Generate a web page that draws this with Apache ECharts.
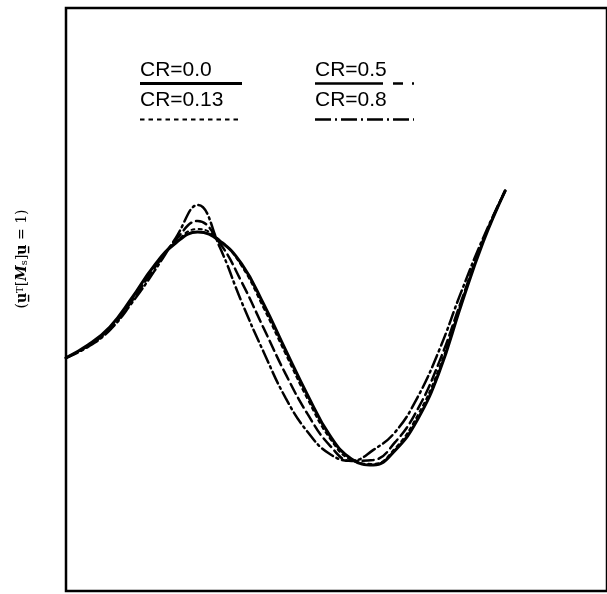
<!DOCTYPE html>
<html>
<head>
<meta charset="utf-8">
<script src="https://cdn.jsdelivr.net/npm/echarts@6/dist/echarts.min.js"></script>
<style>
  html, body { margin: 0; padding: 0; background: #fff; }
  #chart { width: 607px; height: 594px; }
</style>
</head>
<body>
<div id="chart"></div>
<script>
// Position along the member (normalised length)
const positions = [0, 0.05, 0.10, 0.15, 0.20, 0.25, 0.30, 0.35, 0.40, 0.45, 0.50,
                   0.55, 0.60, 0.65, 0.70, 0.75, 0.80, 0.85, 0.90, 0.95, 1.00];

// Normalised mode-shape amplitude for each CR value
const cr00  = [0.000, 0.066, 0.159, 0.308, 0.472, 0.591, 0.647, 0.601, 0.483, 0.277, 0.040,
               -0.191, -0.397, -0.521, -0.552, -0.475, -0.320, -0.073, 0.272, 0.596, 0.859];
const cr013 = [0.000, 0.063, 0.156, 0.303, 0.467, 0.596, 0.663, 0.606, 0.472, 0.256, 0.020,
               -0.212, -0.412, -0.526, -0.546, -0.464, -0.299, -0.052, 0.282, 0.601, 0.859];
const cr05  = [0.000, 0.061, 0.148, 0.292, 0.457, 0.606, 0.704, 0.591, 0.390, 0.153, -0.083,
               -0.289, -0.449, -0.531, -0.526, -0.433, -0.268, -0.021, 0.292, 0.606, 0.859];
const cr08  = [0.000, 0.056, 0.143, 0.282, 0.442, 0.617, 0.786, 0.570, 0.287, 0.030, -0.206,
               -0.381, -0.494, -0.530, -0.474, -0.381, -0.206, 0.040, 0.339, 0.617, 0.859];

const legendLabels = ['CR=0.0', 'CR=0.13', 'CR=0.5', 'CR=0.8'];

const styles = [
  { width: 3,   type: 'solid' },
  { width: 2,   type: [3, 4] },
  { width: 2.5, type: [11, 5] },
  { width: 2.5, type: [13, 4, 2, 4] }
];
const seriesValues = [cr00, cr013, cr05, cr08];

const chart = echarts.init(document.getElementById('chart'), null, { renderer: 'canvas' });

const series = seriesValues.map((vals, i) => ({
  name: legendLabels[i],
  type: 'line',
  data: positions.map((x, k) => [x, vals[k]]),
  smooth: 0.45,
  symbol: 'none',
  lineStyle: { color: '#000', width: styles[i].width, type: styles[i].type, cap: 'round' },
  z: 10 - i
}));

const legendFont = '"Liberation Sans", Arial, sans-serif';
function legendText(label, x, y) {
  return { type: 'text', left: x, top: y,
    style: { text: label, font: '21px ' + legendFont, fill: '#000' } };
}
function legendLine(x1, x2, y, width, dash) {
  return { type: 'line', shape: { x1: x1, y1: y, x2: x2, y2: y },
    style: { stroke: '#000', lineWidth: width, lineDash: dash || null } };
}

const serif = '"DejaVu Serif", serif';

chart.setOption({
  animation: false,
  backgroundColor: '#fff',
  grid: { left: 66, top: 8, width: 560, height: 583, show: true,
          borderColor: '#000', borderWidth: 2.5, backgroundColor: 'transparent' },
  xAxis: { type: 'value', min: 0, max: 1.232,
           axisLine: { show: false }, axisTick: { show: false },
           axisLabel: { show: false }, splitLine: { show: false } },
  yAxis: { type: 'value', min: -1.2, max: 1.8,
           axisLine: { show: false }, axisTick: { show: false },
           axisLabel: { show: false }, splitLine: { show: false } },
  series: series,
  graphic: [
    legendText(legendLabels[0], 140, 60),
    legendLine(140, 242, 83.5, 3),
    legendText(legendLabels[1], 140, 90),
    legendLine(140, 242, 119.5, 2, [4.5, 4]),
    legendText(legendLabels[2], 315, 60),
    legendLine(315, 414, 83.5, 2.5, [68, 10, 10, 9, 2, 100]),
    legendText(legendLabels[3], 315, 90),
    legendLine(315, 414, 119.5, 2.5, [16, 4, 2, 4]),
    {
      type: 'text', x: 22, y: 259, rotation: Math.PI / 2,
      style: {
        text: '({b|u̲}{sup|T}[{i|M}{sub|s}]{b|u̲} = 1)',
        font: '14px ' + serif, fill: '#000',
        align: 'center', verticalAlign: 'middle',
        rich: {
          b: { fontWeight: 'bold', fontSize: 14, fontFamily: serif },
          sup: { fontSize: 10, verticalAlign: 'top', fontFamily: serif },
          i: { fontStyle: 'italic', fontWeight: 'bold', fontSize: 14, fontFamily: serif },
          sub: { fontSize: 10, verticalAlign: 'bottom', fontFamily: serif }
        }
      }
    }
  ]
});
</script>
</body>
</html>
